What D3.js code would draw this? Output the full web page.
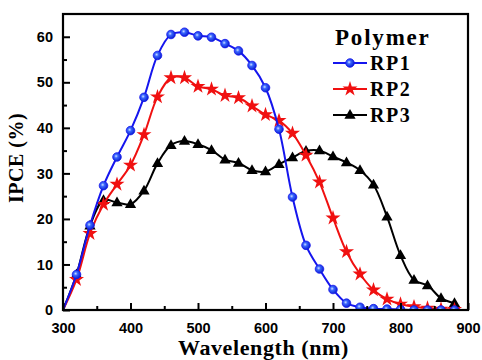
<!DOCTYPE html>
<html><head><meta charset="utf-8">
<script src="https://cdn.jsdelivr.net/npm/d3@7"></script>
<style>body{margin:0;background:#fff}svg{display:block}</style>
</head><body><svg id="c" width="482" height="360"></svg>
<script>
const wavelengths = [300,320,340,360,380,400,420,440,460,480,500,520,540,560,580,600,620,640,660,680,700,720,740,760,780,800,820,840,860,880];
const rp1 = [0,7.8,18.6,27.3,33.6,39.4,46.7,55.9,60.5,61.0,60.2,59.9,58.5,56.9,53.7,48.8,39.7,24.8,14.2,9.0,4.5,1.5,0.6,0.3,0.2,0.1,0,0,0,0];
const rp2 = [0,6.7,16.8,23.2,27.6,31.8,38.5,46.8,51.0,51.0,49.1,48.5,47.1,46.6,44.8,42.9,41.6,38.8,34.0,28.1,20.2,12.8,7.9,4.4,2.4,1.3,0.7,0.4,0.2,0.1];
const rp3 = [0,7.8,18.5,24.1,23.6,23.2,26.2,32.2,36.2,37.1,36.4,35.1,33.0,32.3,30.7,30.4,32.0,33.5,34.9,35.0,33.7,32.4,30.7,27.5,20.5,12.0,6.6,5.4,2.6,1.5];
const seriesNames = ["RP1","RP2","RP3"];
const xTicks = [300,400,500,600,700,800,900];
const yTicks = [0,10,20,30,40,50,60];

const svg = d3.select("#c");
const L=63, R=468, T=14, B=310;
const x = d3.scaleLinear().domain([300,900]).range([L,R]);
const y = d3.scaleLinear().domain([0,65]).range([B,T]);
const SERIF = "Liberation Serif, 'DejaVu Serif', serif";

const defs = svg.append("defs");
const g = defs.append("radialGradient").attr("id","ball").attr("cx","40%").attr("cy","40%").attr("r","60%");
g.append("stop").attr("offset","0%").attr("stop-color","#cfe0ff");
g.append("stop").attr("offset","35%").attr("stop-color","#3a66ff");
g.append("stop").attr("offset","100%").attr("stop-color","#0a1fd0");
defs.append("clipPath").attr("id","clip").append("rect").attr("x",L).attr("y",T).attr("width",R-L).attr("height",B-T);

const series = [
  {name:seriesNames[0], vals:rp1, color:"#1515ee", marker:"circle"},
  {name:seriesNames[1], vals:rp2, color:"#f01010", marker:"star"},
  {name:seriesNames[2], vals:rp3, color:"#000000", marker:"tri"}
];

const line = d3.line().x((d,i)=>x(wavelengths[i])).y(d=>y(d)).curve(d3.curveCatmullRom.alpha(0.5));
const plot = svg.append("g").attr("clip-path","url(#clip)");

const starSym = d3.symbol().type(d3.symbolStar).size(70);
const triSym = d3.symbol().type(d3.symbolTriangle).size(55);

function drawMarker(sel, s, px, py){
  if(s.marker==="circle"){
    sel.append("circle").attr("cx",px).attr("cy",py).attr("r",4.3).attr("fill","url(#ball)").attr("stroke","#1515ee").attr("stroke-width",0.8);
  } else if(s.marker==="star"){
    sel.append("path").attr("d",starSym()).attr("transform",`translate(${px},${py})`).attr("fill",s.color);
  } else {
    sel.append("path").attr("d",triSym()).attr("transform",`translate(${px},${py+0.5})`).attr("fill",s.color);
  }
}

[series[2],series[1],series[0]].forEach(s=>{
  plot.append("path").datum(s.vals).attr("d",line).attr("fill","none").attr("stroke",s.color).attr("stroke-width",2);
  const mg = plot.append("g");
  s.vals.forEach((v,i)=>{ if(i>0) drawMarker(mg, s, x(wavelengths[i]), y(v)); });
});

svg.append("rect").attr("x",L).attr("y",T).attr("width",R-L).attr("height",B-T).attr("fill","none").attr("stroke","#000").attr("stroke-width",2.2);

const xAxis = d3.axisBottom(x).tickValues(xTicks).tickSize(-7).tickPadding(13).tickFormat(d3.format("d"));
const xMinor = d3.axisBottom(x).tickValues(d3.range(350,900,100)).tickSize(-4).tickFormat("");
const yAxis = d3.axisLeft(y).tickValues(yTicks).tickSize(-7).tickPadding(10).tickFormat(d3.format("d"));
const yMinor = d3.axisLeft(y).tickValues([5,15,25,35,45,55]).tickSize(-4).tickFormat("");

function styleAxis(a){
  a.select(".domain").remove();
  a.selectAll("line").attr("stroke","#000").attr("stroke-width",2);
  a.selectAll("text").attr("font-family","Liberation Sans, Arial, sans-serif").attr("font-weight","bold").attr("font-size","14.5px").attr("fill","#000");
}
styleAxis(svg.append("g").attr("transform",`translate(0,${B})`).call(xAxis));
styleAxis(svg.append("g").attr("transform",`translate(0,${B})`).call(xMinor));
styleAxis(svg.append("g").attr("transform",`translate(${L},0)`).call(yAxis));
styleAxis(svg.append("g").attr("transform",`translate(${L},0)`).call(yMinor));

svg.append("text").attr("x",(L+R)/2-2).attr("y",355).attr("text-anchor","middle")
  .attr("font-family",SERIF).attr("font-weight","bold").attr("font-size","22px").attr("letter-spacing","0.6px").text("Wavelength (nm)");
svg.append("text").attr("transform",`translate(23,${(T+B)/2-4}) rotate(-90)`).attr("text-anchor","middle")
  .attr("font-family",SERIF).attr("font-weight","bold").attr("font-size","20px").attr("letter-spacing","0.5px").text("IPCE (%)");

svg.append("text").attr("x",335).attr("y",45).attr("font-family",SERIF).attr("font-weight","bold").attr("font-size","23px").attr("letter-spacing","1.8px").text("Polymer");
series.forEach((s,i)=>{
  const ly = 63 + i*26;
  const lg = svg.append("g");
  lg.append("line").attr("x1",333).attr("x2",367).attr("y1",ly).attr("y2",ly).attr("stroke",s.color).attr("stroke-width",2);
  drawMarker(lg, s, 350, ly);
  lg.append("text").attr("x",370).attr("y",ly+7).attr("font-family",SERIF).attr("font-weight","bold").attr("font-size","20px").attr("letter-spacing","1.5px").text(s.name);
});
</script></body></html>
